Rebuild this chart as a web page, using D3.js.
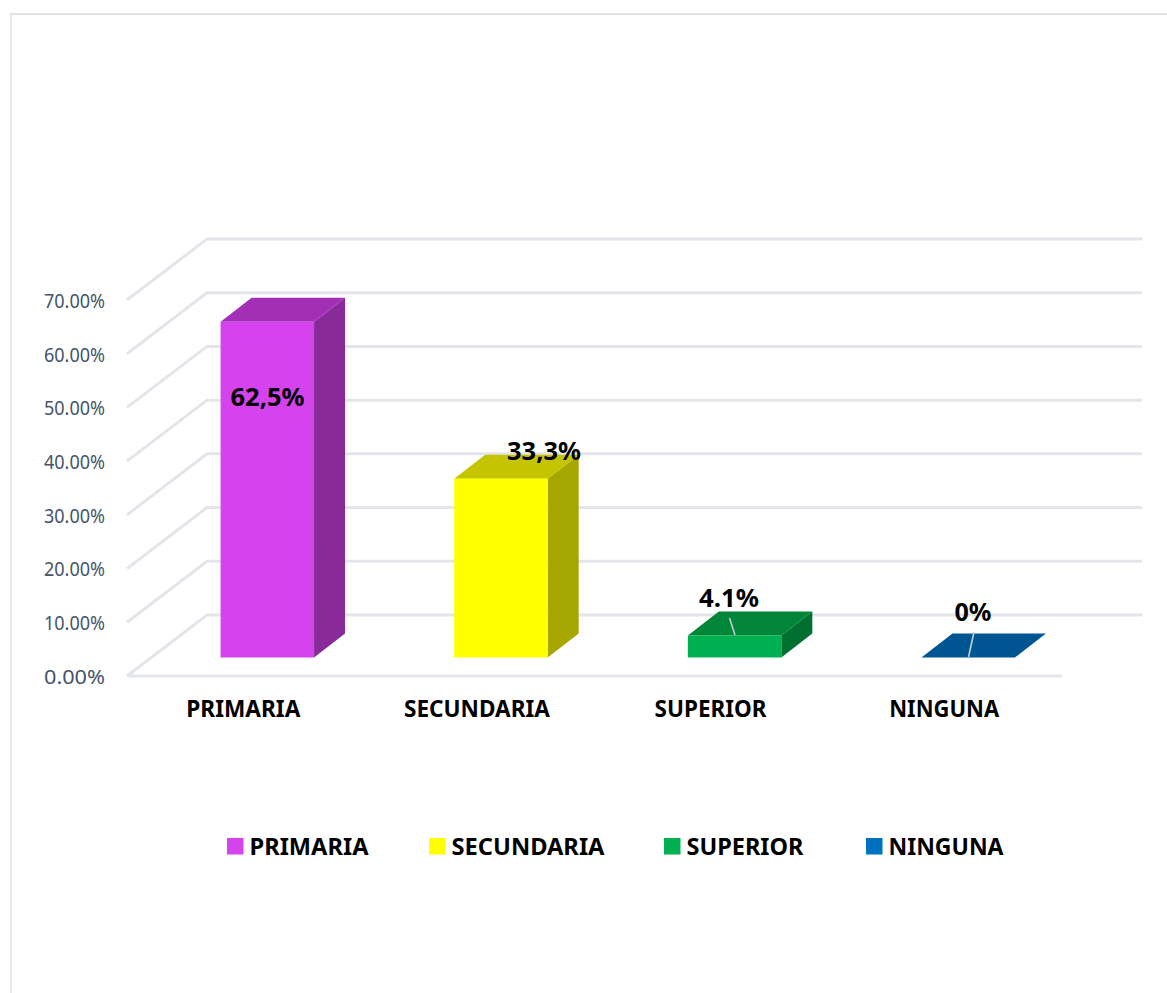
<!DOCTYPE html>
<html><head><meta charset="utf-8">
<script src="https://cdnjs.cloudflare.com/ajax/libs/d3/7.8.5/d3.min.js"></script>
<style>html,body{margin:0;padding:0;background:#fff;overflow:hidden}svg{display:block}
text{font-family:"Noto Sans","Open Sans",sans-serif}</style></head><body>
<svg id="c" width="1167" height="993"></svg>
<script>
const categories=["PRIMARIA","SECUNDARIA","SUPERIOR","NINGUNA"];
const values=[62.5,33.3,4.1,0];
const valueLabels=["62,5%","33,3%","4.1%","0%"];
const tickValues=[0,10,20,30,40,50,60,70];
const frontColors=["#d543ef","#ffff00","#00b050","#0070c0"];
const topColors=["#a22fb6","#c4c400","#008539","#005693"];
const sideColors=["#882a98","#a6a600","#007030","#004a80"];

const svg=d3.select("#c");
const W=1167;
// frame
svg.append("line").attr("x1",10).attr("x2",W).attr("y1",14).attr("y2",14).attr("stroke","#e2e2e2").attr("stroke-width",2);
svg.append("line").attr("x1",11).attr("x2",11).attr("y1",14).attr("y2",993).attr("stroke","#e3e8f2").attr("stroke-width",2);

const y=d3.scaleLinear().domain([0,70]).range([676,300]);
const x=d3.scaleBand().domain(categories).range([126.5,1061]).paddingInner(0.6).paddingOuter(0.3);
const D={dx:80,dy:-61};      // floor depth
const B={x0:24,y0:-18.5,dx:31,dy:-24}; // bar placement inside the floor depth
const gridC="#e2e5ea";

// gridlines: side wall + back wall
const g=svg.append("g").attr("fill","none").attr("stroke",gridC).attr("stroke-width",3);
tickValues.forEach(t=>{
  const p=d3.path();
  p.moveTo(127,y(t));p.lineTo(127+D.dx,y(t)+D.dy);p.lineTo(1062+D.dx,y(t)+D.dy);
  g.append("path").attr("d",p.toString());
});
// floor front edge
g.append("line").attr("x1",127).attr("x2",1062).attr("y1",y(0)).attr("y2",y(0));

// value axis
const axis=d3.axisLeft(y).tickValues(tickValues).tickSize(0).tickPadding(0).tickFormat(d=>d3.format(".2f")(d)+"%");
const ax=svg.append("g").attr("transform","translate(105,0)").call(axis);
ax.select(".domain").remove();
ax.selectAll("text").attr("font-size",20.5).attr("fill","#44546a").attr("font-family",'"Noto Sans"')
  .attr("dy","0.36em").attr("textLength",61).attr("lengthAdjust","spacingAndGlyphs");

// 3D bars
const poly=pts=>pts.map(p=>p.join(",")).join(" ");
const bars=svg.append("g").selectAll("g").data(categories).join("g");
bars.each(function(c,i){
  const s=d3.select(this);
  const l=x(c)+B.x0, r=l+x.bandwidth();
  const b=y(0)+B.y0, t=b-(y(0)-y(values[i]));
  s.append("polygon").attr("fill",sideColors[i]).attr("points",poly([[r,b],[r+B.dx,b+B.dy],[r+B.dx,t+B.dy],[r,t]]));
  s.append("polygon").attr("fill",topColors[i]).attr("points",poly([[l,t],[l+B.dx,t+B.dy],[r+B.dx,t+B.dy],[r,t]]));
  s.append("rect").attr("x",l).attr("y",t).attr("width",x.bandwidth()).attr("height",b-t).attr("fill",frontColors[i]);
});

// leader lines
[[729.5,618,735,635],[974,632,968.5,657]].forEach(a=>{
  svg.append("line").attr("x1",a[0]).attr("y1",a[1]).attr("x2",a[2]).attr("y2",a[3]).attr("stroke","#c6cad2").attr("stroke-width",1.6);
});

// value labels
const lblPos=[[267.5,405.5],[544,460],[729,607],[973,621]];
const lblW=[74,74,60,37];
svg.append("g").selectAll("text").data(valueLabels).join("text")
  .attr("x",(d,i)=>lblPos[i][0]).attr("y",(d,i)=>lblPos[i][1]).attr("text-anchor","middle")
  .attr("font-size",24.5).attr("font-weight",700).attr("fill","#000")
  .attr("textLength",(d,i)=>lblW[i]).attr("lengthAdjust","spacingAndGlyphs").text(d=>d);

// category labels
const catW=[114,146,112,110];
svg.append("g").selectAll("text").data(categories).join("text")
  .attr("x",d=>x(d)+x.bandwidth()/2).attr("y",717).attr("text-anchor","middle")
  .attr("font-size",22.5).attr("font-weight",700).attr("fill","#000")
  .attr("textLength",(d,i)=>catW[i]).attr("lengthAdjust","spacingAndGlyphs").text(d=>d);

// legend
const legX=[227,429,664,866], legTextW=[119,153,117,115];
const leg=svg.append("g").selectAll("g").data(categories).join("g");
leg.append("rect").attr("x",(d,i)=>legX[i]).attr("y",838).attr("width",16.5).attr("height",16.5).attr("fill",(d,i)=>frontColors[i]);
leg.append("text").attr("x",(d,i)=>legX[i]+22.5).attr("y",855)
  .attr("font-size",23.5).attr("font-weight",700).attr("fill","#000")
  .attr("textLength",(d,i)=>legTextW[i]).attr("lengthAdjust","spacingAndGlyphs").text(d=>d);
</script></body></html>
